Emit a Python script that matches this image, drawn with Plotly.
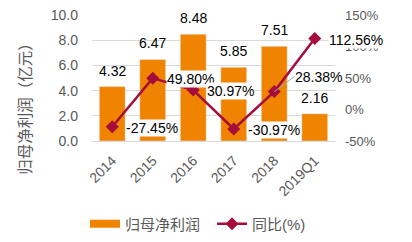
import plotly.graph_objects as go

categories = ["2014", "2015", "2016", "2017", "2018", "2019Q1"]
profit = [4.32, 6.47, 8.48, 5.85, 7.51, 2.16]
yoy = [-27.45, 49.80, 30.97, -30.97, 28.38, 112.56]
yoy_labels = ["-27.45%", "49.80%", "30.97%", "-30.97%", "28.38%", "112.56%"]
left_ticks = [0, 2, 4, 6, 8, 10]
right_ticks = [-50, 0, 50, 100, 150]
right_tick_text = ["-50%", "0%", "50%", "100%", "150%"]

ORANGE = "#F08300"
RED = "#A50E3C"
GRAY = "#595959"
GRID = "#D9D9D9"
FONT = "Liberation Sans, Noto Sans CJK SC, sans-serif"

pos = list(range(len(categories)))

fig = go.Figure()
fig.add_trace(go.Bar(x=pos, y=profit, name="归母净利润", marker_color=ORANGE,
                     width=0.64, showlegend=False))
# legend entry for the bars (wide rectangle like the original)
fig.add_trace(go.Scatter(x=[None], y=[None], name="归母净利润", mode="lines",
                         line=dict(color=ORANGE, width=8), legend="legend"))
fig.add_trace(go.Scatter(x=pos, y=yoy, name="同比(%)", mode="lines+markers",
                         line=dict(color=RED, width=2.5),
                         marker=dict(symbol="diamond", size=10, color=RED),
                         yaxis="y2", legend="legend2"))

leg_common = dict(orientation="h", xref="container", yref="container",
                  xanchor="left", yanchor="middle", itemwidth=30,
                  font=dict(size=15, color=GRAY), bgcolor="rgba(0,0,0,0)")

fig.update_layout(
    width=412, height=242,
    margin=dict(l=92, r=77, t=15, b=101, autoexpand=False),
    plot_bgcolor="white", paper_bgcolor="white",
    font=dict(family=FONT, color=GRAY),
    showlegend=True,
    legend=dict(x=85 / 412, y=18 / 242, **leg_common),
    legend2=dict(x=212 / 412, y=18 / 242, **leg_common),
    xaxis=dict(range=[-0.5, 5.5], tickvals=pos, ticktext=categories, tickangle=-45,
               tickfont=dict(size=14, color=GRAY), showgrid=False, ticklabelstandoff=5,
               showline=True, linecolor=GRID, ticks="", zeroline=False),
    yaxis=dict(range=[0, 10], tickvals=left_ticks, tickformat=".1f", ticklabelstandoff=13,
               tickfont=dict(size=14, color=GRAY), gridcolor=GRID, zeroline=False),
    yaxis2=dict(range=[-50, 150], tickvals=right_ticks, ticktext=right_tick_text, overlaying="y",
                side="right", showgrid=False, zeroline=False, ticklabelstandoff=9,
                tickfont=dict(size=13, color=GRAY)),
)

fig.add_annotation(xref="paper", yref="paper", x=-0.272, y=0.286, text="归母净利润（亿元）",
                   textangle=-90, showarrow=False, xanchor="center", yanchor="middle",
                   font=dict(size=15.5, color=GRAY, family=FONT))

for i, v in zip(pos, profit):
    fig.add_annotation(x=i, y=v, yref="y", text=f"{v:.2f}", showarrow=False,
                       yanchor="middle", yshift=16,
                       font=dict(size=14, color="#000000", family=FONT))
for i, v, t in zip(pos, yoy, yoy_labels):
    if t == "28.38%":
        fig.add_annotation(x=i, y=v, yref="y2", text=t, showarrow=True, arrowhead=0,
                           arrowcolor="#A6A6A6", arrowwidth=1, ax=20, ay=-15,
                           xanchor="left", yanchor="middle", bgcolor="white", borderpad=0,
                           font=dict(size=14, color="#000000", family=FONT))
    else:
        fig.add_annotation(x=i, y=v, yref="y2", text=t, showarrow=False,
                           xanchor="left", yanchor="middle", xshift=13, yshift=-1,
                           bgcolor="white", borderpad=0,
                           font=dict(size=14, color="#000000", family=FONT))

fig.write_html("out.html")
